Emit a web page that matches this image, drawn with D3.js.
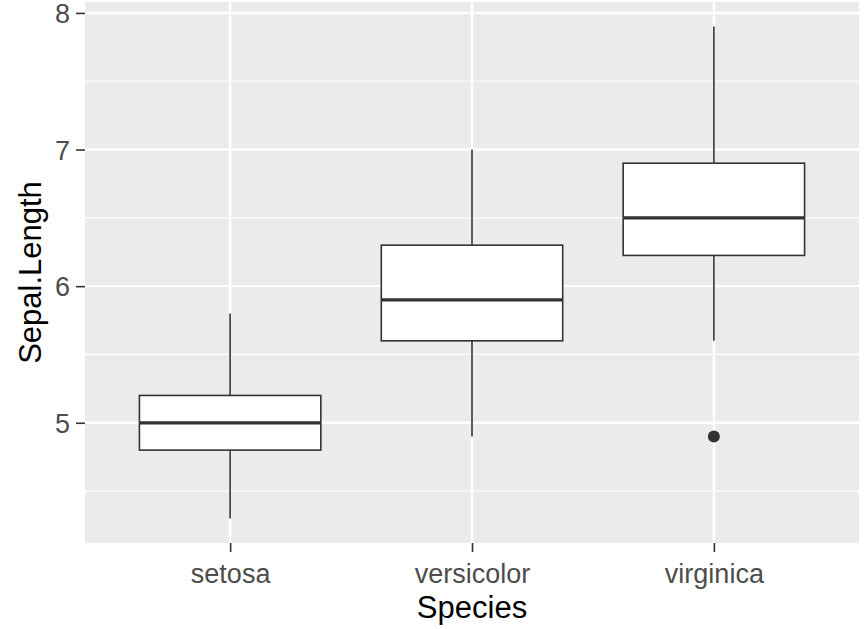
<!DOCTYPE html>
<html><head><meta charset="utf-8">
<script src="https://cdn.jsdelivr.net/npm/d3@7"></script>
<style>body{margin:0;background:#fff;} svg{display:block;}</style>
</head><body>
<svg id="c" width="868" height="629"></svg>
<script>
const species = ["setosa", "versicolor", "virginica"];
const lowerWhisker = [4.3, 4.9, 5.6];
const q1 = [4.8, 5.6, 6.225];
const median = [5.0, 5.9, 6.5];
const q3 = [5.2, 6.3, 6.9];
const upperWhisker = [5.8, 7.0, 7.9];
const outlierSpecies = ["virginica"];
const outlierValues = [4.9];
const yTicks = [5, 6, 7, 8];
const yMinor = [4.5, 5.5, 6.5, 7.5];

const svg = d3.select("#c");
const P = {l: 85, r: 859, t: 2, b: 543};
const font = "'Liberation Sans', Arial, sans-serif";

const x = d3.scaleBand().domain(species).range([P.l, P.r]).paddingOuter(0.6 / 1).paddingInner(0);
// ggplot discrete: categories at 1..3, limits 0.4..3.6
const xc = d3.scaleLinear().domain([0.4, 3.6]).range([P.l, P.r]);
const xpos = s => xc(species.indexOf(s) + 1);
const bw = xc(1.75) - xc(1);
const y = d3.scaleLinear().domain([4.3 - 0.18, 7.9 + 0.18]).range([P.b, P.t]);

svg.append("rect").attr("x", P.l).attr("y", P.t).attr("width", P.r - P.l).attr("height", P.b - P.t).attr("fill", "#EBEBEB");

const g = svg.append("g");
g.selectAll(".minor").data(yMinor).join("line")
  .attr("x1", P.l).attr("x2", P.r).attr("y1", d => y(d)).attr("y2", d => y(d))
  .attr("stroke", "#fff").attr("stroke-width", 1.2);
g.selectAll(".major").data(yTicks).join("line")
  .attr("x1", P.l).attr("x2", P.r).attr("y1", d => y(d)).attr("y2", d => y(d))
  .attr("stroke", "#fff").attr("stroke-width", 2.4);
g.selectAll(".vmajor").data(species).join("line")
  .attr("x1", d => xpos(d)).attr("x2", d => xpos(d)).attr("y1", P.t).attr("y2", P.b)
  .attr("stroke", "#fff").attr("stroke-width", 2.4);

const data = species.map((s, i) => ({s, lo: lowerWhisker[i], q1: q1[i], med: median[i], q3: q3[i], hi: upperWhisker[i]}));
const bx = svg.append("g");
bx.selectAll(".wl").data(data).join("line")
  .attr("x1", d => xpos(d.s)).attr("x2", d => xpos(d.s)).attr("y1", d => y(d.lo)).attr("y2", d => y(d.q1))
  .attr("stroke", "#333").attr("stroke-width", 1.6);
bx.selectAll(".wh").data(data).join("line")
  .attr("x1", d => xpos(d.s)).attr("x2", d => xpos(d.s)).attr("y1", d => y(d.hi)).attr("y2", d => y(d.q3))
  .attr("stroke", "#333").attr("stroke-width", 1.6);
bx.selectAll(".box").data(data).join("rect")
  .attr("x", d => xpos(d.s) - bw / 2).attr("width", bw)
  .attr("y", d => y(d.q3)).attr("height", d => y(d.q1) - y(d.q3))
  .attr("fill", "#fff").attr("stroke", "#333").attr("stroke-width", 1.6);
bx.selectAll(".med").data(data).join("line")
  .attr("x1", d => xpos(d.s) - bw / 2).attr("x2", d => xpos(d.s) + bw / 2)
  .attr("y1", d => y(d.med)).attr("y2", d => y(d.med))
  .attr("stroke", "#333").attr("stroke-width", 3.2);
bx.selectAll(".out").data(outlierValues).join("circle")
  .attr("cx", (d, i) => xpos(outlierSpecies[i])).attr("cy", d => y(d)).attr("r", 6)
  .attr("fill", "#333");

// axes
const ya = svg.append("g").attr("transform", `translate(${P.l},0)`)
  .call(d3.axisLeft(y).tickValues(yTicks).tickSize(9).tickPadding(6).tickFormat(d3.format("d")));
ya.select(".domain").remove();
ya.selectAll(".tick line").attr("stroke", "#333").attr("stroke-width", 1.6);
ya.selectAll(".tick text").attr("fill", "#4D4D4D").style("font-family", font).style("font-size", "27px").attr("dy", "0.36em");

const xa = svg.append("g").attr("transform", `translate(0,${P.b})`)
  .call(d3.axisBottom(xc).tickValues([1, 2, 3]).tickSize(9).tickPadding(6).tickFormat(d => species[d - 1]));
xa.select(".domain").remove();
xa.selectAll(".tick line").attr("stroke", "#333").attr("stroke-width", 1.6);
xa.selectAll(".tick text").attr("fill", "#4D4D4D").style("font-family", font).style("font-size", "27px").attr("dy", null).attr("y", 40);

svg.append("text").attr("x", (P.l + P.r) / 2).attr("y", 618).attr("text-anchor", "middle")
  .style("font-family", font).style("font-size", "31px").attr("fill", "#000").text("Species");
svg.append("text").attr("transform", `translate(41,${(P.t + P.b) / 2}) rotate(-90)`).attr("text-anchor", "middle")
  .style("font-family", font).style("font-size", "31px").attr("fill", "#000").text("Sepal.Length");
</script>
</body></html>
